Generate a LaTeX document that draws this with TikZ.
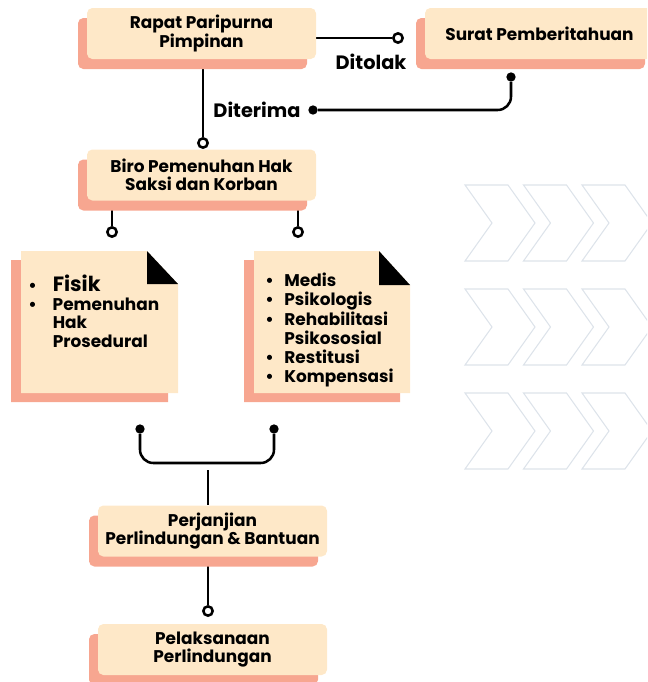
\documentclass[tikz,border=0pt]{standalone}
\usepackage{fontspec}
\setmainfont{Poppins}
\usetikzlibrary{shadows,backgrounds}
\definecolor{peach}{HTML}{FEE8C8}
\definecolor{salmon}{HTML}{F7A690}
\definecolor{chev}{HTML}{DDE3EA}
\newcommand{\itm}{\textbullet}

\begin{document}
\begin{tikzpicture}[x=0.75pt,y=-0.75pt,
  box/.style={fill=peach, rounded corners=4pt, minimum width=171.75pt, minimum height=38.25pt, inner sep=0pt, align=center,
    font=\bfseries\fontsize{12.7}{13.8}\selectfont,
    drop shadow={shadow xshift=-6.75pt, shadow yshift=-7.5pt, fill=salmon, opacity=1}},
  doc/.style={fill=peach, drop shadow={shadow xshift=-7.5pt, shadow yshift=-6.75pt, fill=salmon, opacity=1}},
  lst/.style={anchor=north west, inner sep=0pt, font=\bfseries\fontsize{12.7}{13.9}\selectfont},
  lbl/.style={font=\bfseries\fontsize{14.5}{15}\selectfont, inner sep=0pt},
  odot/.style={circle, draw, line width=1.9pt, fill=white, inner sep=0pt, minimum size=7pt},
  fdot/.style={circle, fill, inner sep=0pt, minimum size=7pt},
  con/.style={line width=1.9pt},
  chv/.style={draw=chev, line width=0.8pt}]
\clip (0,0) rectangle (647,682);

% background arrows
\foreach \r in {0,1,2}
  \foreach \c in {0,1,2}
    \draw[chv] ({465+58.5*\c},{185+104*\r}) -- ++(43,0) -- ++(27,38) -- ++(-27,38) -- ++(-43,0) -- ++(27,-38) -- cycle;

% boxes
\node[box] (rapat) at (201.5,33.5) {Rapat Paripurna\\Pimpinan};
\node[box] (surat) at (539.5,33.5) {Surat Pemberitahuan};
\node[box] (biro) at (201.5,175) {Biro Pemenuhan Hak\\Saksi dan Korban};
\node[box] (janji) at (212.5,531) {Perjanjian\\Perlindungan \& Bantuan};
\node[box] (laksana) at (212.5,649.5) {Pelaksanaan\\Perlindungan};

% notes
\path[doc] (21,251) -- (147,251) -- (178,284) -- (178,393) -- (21,393) -- cycle;
\fill (147,251) -- (147,284) -- (178,284) -- cycle;
\path[doc] (254,251) -- (379,251) -- (410,285) -- (410,393) -- (254,393) -- cycle;
\fill (379,251) -- (379,285) -- (410,285) -- cycle;

\node[lst] (fisik) at (28,275) {\begin{tabular}{@{}l@{\hspace{12pt}}l@{}}
  \itm & {\fontsize{15.5}{16}\selectfont Fisik}\\
  \itm & Pemenuhan\\
       & Hak\\
       & Prosedural
\end{tabular}};
\node[lst] (medis) at (265,273) {\begin{tabular}{@{}l@{\hspace{8pt}}l@{}}
  \itm & Medis\\
  \itm & Psikologis\\
  \itm & Rehabilitasi\\
       & Psikososial\\
  \itm & Restitusi\\
  \itm & Kompensasi
\end{tabular}};

% end points
\node[odot] (tolak) at (398,38) {};
\node[fdot] (terima2) at (511,77) {};
\node[fdot] (terima1) at (313,110) {};
\node[odot] (c1) at (203,143) {};
\node[odot] (c2) at (112,232) {};
\node[odot] (c3) at (298,232) {};
\node[fdot] (d1) at (140,429) {};
\node[fdot] (d2) at (274,429) {};
\coordinate (jn) at (208,463);
\coordinate (jt) at (208,470);
\node[odot] (c4) at (208,611) {};

\node[lbl] (ditolak) at (371,62) {Ditolak};
\node[lbl] (diterima) at (257,110) {Diterima};

\begin{scope}[on background layer]
\draw[con] (rapat.east |- tolak) -- (tolak);
\draw[con, rounded corners=10pt] (terima2) |- (terima1);
\draw[con] (rapat.south -| c1) -- (c1);
\draw[con] (biro.south -| c2) -- (c2);
\draw[con] (biro.south -| c3) -- (c3);
\draw[con, rounded corners=10pt] (d1) |- (jn) -| (d2);
\draw[con] (jt) -- (jt |- janji.north);
\draw[con] (janji.south -| c4) -- (c4);
\end{scope}
\end{tikzpicture}
\end{document}
